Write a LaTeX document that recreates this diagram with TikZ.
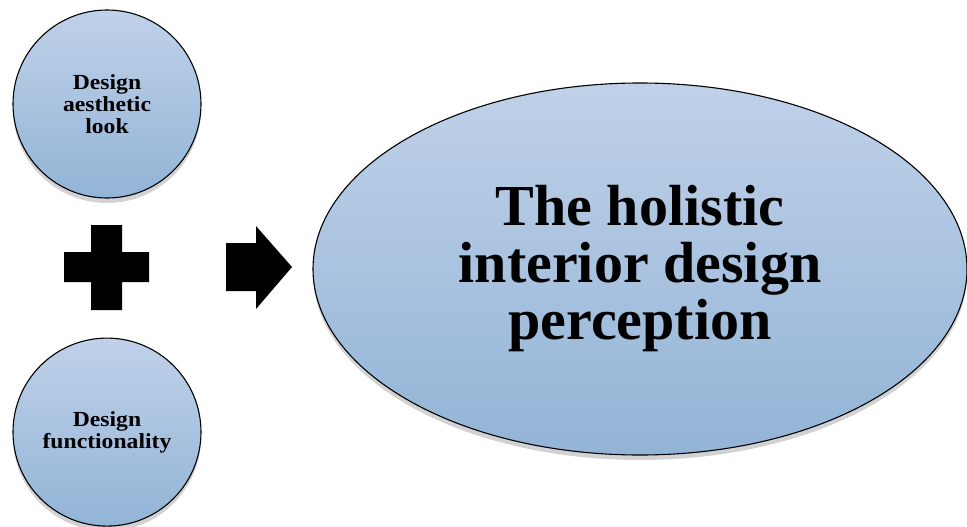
\documentclass[tikz,border=0pt]{standalone}
\usepackage{fontspec}
\setmainfont{Liberation Serif}
\newfontfamily\widefont[FakeStretch=1.1]{Liberation Serif}
\usetikzlibrary{positioning, shapes.geometric, shadows}
\definecolor{bubbletop}{RGB}{192,209,233}
\definecolor{bubblebottom}{RGB}{146,180,214}

\begin{document}
\begin{tikzpicture}[
  x=1pt, y=-1pt,
  node distance=139pt,
  bubble/.style={draw, line width=1.1pt, inner sep=0pt, align=center,
    top color=bubbletop, bottom color=bubblebottom,
    drop shadow={shadow xshift=0pt, shadow yshift=-5pt, opacity=0.25, fill=black!70}},
  small/.style={bubble, circle, minimum size=188pt,
    font=\widefont\bfseries\fontsize{21.5}{22}\selectfont},
  big/.style={bubble, ellipse, minimum width=654pt, minimum height=372pt,
    font=\bfseries\fontsize{58}{57}\selectfont}
]
  \useasboundingbox (0,0) rectangle (967,527);

  \node[small] (look) at (107,104) {Design\\aesthetic\\look};
  \node[small, below=of look] (func) {Design\\functionality};
  \node[big] (whole) at (640,269) {The holistic\\interior design\\perception};

  \fill (91,225) -- (122,225) -- (122,252) -- (149,252) -- (149,282)
    -- (122,282) -- (122,310) -- (91,310) -- (91,282) -- (64,282)
    -- (64,252) -- (91,252) -- cycle;
  \fill (226,243) -- (256,243) -- (256,226) -- (292,267) -- (256,309)
    -- (256,291) -- (226,291) -- cycle;
\end{tikzpicture}
\end{document}
